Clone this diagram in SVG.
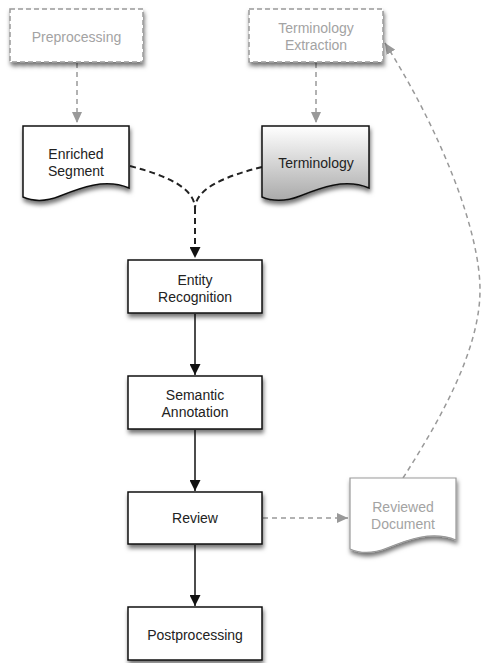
<svg xmlns="http://www.w3.org/2000/svg" width="481" height="663" viewBox="0 0 481 663">
<style>
text{font-family:"Liberation Sans",Arial,sans-serif;font-size:14px;text-anchor:middle}
.t{fill:#222}
.f{fill:#a3a3a3}
.box{fill:#fff;stroke:#111;stroke-width:1.5}
.dbox{fill:#fff;stroke:#999;stroke-width:1.5;stroke-dasharray:5 3}
.gdoc{fill:#fff;stroke:#999;stroke-width:1.2}
.solid{fill:none;stroke:#111;stroke-width:1.5}
.bdash{fill:none;stroke:#222;stroke-width:2;stroke-dasharray:6 4}
.gdash{fill:none;stroke:#999;stroke-width:1.5;stroke-dasharray:5 4}
</style>
<defs>
<filter id="sh" x="-20%" y="-20%" width="140%" height="150%">
<feDropShadow dx="1" dy="3.5" stdDeviation="2.2" flood-color="#000" flood-opacity="0.55"/>
</filter>
<linearGradient id="grad" x1="0" y1="0" x2="0" y2="1">
<stop offset="0" stop-color="#ffffff"/>
<stop offset="1" stop-color="#aaaaaa"/>
</linearGradient>
<marker id="ab" markerUnits="userSpaceOnUse" markerWidth="11" markerHeight="11" refX="11" refY="5.5" orient="auto">
<path d="M0,0 L11,5.5 L0,11 z" fill="#111"/>
</marker>
<marker id="ag" markerUnits="userSpaceOnUse" markerWidth="11" markerHeight="10" refX="11" refY="5" orient="auto">
<path d="M0,0 L11,5 L0,10 z" fill="#999"/>
</marker>
</defs>

<g id="connectors">
<path class="gdash" d="M77,63 V123" marker-end="url(#ag)"/>
<path class="gdash" d="M316,63 V123" marker-end="url(#ag)"/>
<path class="bdash" d="M130,166 C168,176 194,188 195,208"/>
<path class="bdash" d="M262,167 C226,176 196,188 195,208"/>
<path class="bdash" d="M195,208 V258" marker-end="url(#ab)"/>
<path class="solid" d="M195,314 V375" marker-end="url(#ab)"/>
<path class="solid" d="M195,430 V491" marker-end="url(#ab)"/>
<path class="solid" d="M195,545 V606" marker-end="url(#ab)"/>
<path class="gdash" d="M263,518 H348" marker-end="url(#ag)"/>
<path class="gdash" d="M403,478 C440,420 480,350 480,290 C480,230 440,130 385,43" marker-end="url(#ag)"/>
</g>

<g id="preprocessing">
<rect class="dbox" x="10" y="9" width="133" height="53" filter="url(#sh)"/>
<text class="f" x="76.5" y="41.5">Preprocessing</text>
</g>

<g id="terminology-extraction">
<rect class="dbox" x="249" y="9" width="134" height="53" filter="url(#sh)"/>
<text class="f" x="316" y="33">Terminology</text>
<text class="f" x="316" y="50">Extraction</text>
</g>

<g id="enriched-segment">
<path class="box" d="M23,126 H129 V188 C105,178 80,188 60,196 C45,202 32,201 23,197 Z" filter="url(#sh)"/>
<text class="t" x="76" y="159">Enriched</text>
<text class="t" x="76" y="176">Segment</text>
</g>

<g id="terminology">
<path d="M262,126 H369 V188 C345,178 320,188 300,196 C285,202 271,201 262,197 Z" fill="url(#grad)" stroke="#111" stroke-width="1.5" filter="url(#sh)"/>
<text class="t" x="316" y="168">Terminology</text>
</g>

<g id="entity-recognition">
<rect class="box" x="128" y="260" width="134" height="53" filter="url(#sh)"/>
<text class="t" x="195" y="284.5">Entity</text>
<text class="t" x="195" y="301.5">Recognition</text>
</g>

<g id="semantic-annotation">
<rect class="box" x="128" y="376" width="134" height="53" filter="url(#sh)"/>
<text class="t" x="195" y="399.5">Semantic</text>
<text class="t" x="195" y="416.5">Annotation</text>
</g>

<g id="review">
<rect class="box" x="128" y="492" width="134" height="52" filter="url(#sh)"/>
<text class="t" x="195" y="523">Review</text>
</g>

<g id="postprocessing">
<rect class="box" x="128" y="607" width="134" height="53" filter="url(#sh)"/>
<text class="t" x="195" y="639.5">Postprocessing</text>
</g>

<g id="reviewed-document">
<path class="gdoc" d="M350,478 H456 V540 C432,530 407,540 387,548 C372,554 359,553 350,549 Z" filter="url(#sh)"/>
<text class="f" x="403" y="511.5">Reviewed</text>
<text class="f" x="403" y="529">Document</text>
</g>
</svg>
